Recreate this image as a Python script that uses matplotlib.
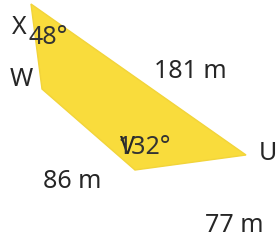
import matplotlib
matplotlib.use("Agg")
import matplotlib.pyplot as plt
from matplotlib.patches import Polygon

# Quadrilateral vertices (pixel-like coordinates)
vertex_names = ["X", "W", "V", "U"]
vertex_x = [31, 42, 135, 246]
vertex_y = [4, 89, 170, 155]

side_labels = ["181 m", "86 m", "77 m"]
angle_labels = ["48°", "132°"]

plt.rcParams['font.family'] = ['Noto Sans', 'DejaVu Sans']

fig = plt.figure(figsize=(2.76, 2.40), dpi=100)
ax = fig.add_axes([0, 0, 1, 1])
ax.set_xlim(0, 276)
ax.set_ylim(240, 0)
ax.axis('off')

poly = Polygon(list(zip(vertex_x, vertex_y)), closed=True,
               facecolor='#F9DC3C', edgecolor='#F2D43A', linewidth=1.0)
ax.add_patch(poly)

tc = '#262626'
fs = 18
# vertex labels
name_pos = {"X": (19, 28), "W": (21, 80), "V": (127, 147), "U": (268, 154)}
for n in vertex_names:
    x, y = name_pos[n]
    ax.text(x, y, n, ha='center', va='center', fontsize=fs, color=tc)

# angle labels
angle_pos = [(48, 37), (145, 147)]
for lab, (x, y) in zip(angle_labels, angle_pos):
    ax.text(x, y, lab, ha='center', va='center', fontsize=fs, color='#333333')

# side labels
side_pos = [(190, 71), (72, 182), (234, 225)]
for lab, (x, y) in zip(side_labels, side_pos):
    ax.text(x, y, lab, ha='center', va='center', fontsize=fs, color=tc)

fig.savefig("out.png", dpi=100)
